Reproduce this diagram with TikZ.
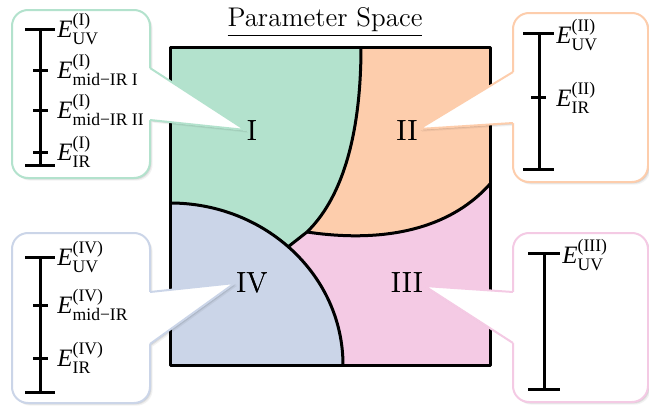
\documentclass[tikz,border=0pt]{standalone}
\usepackage{fontspec}
\newfontfamily\tms{Liberation Serif}
\usetikzlibrary{calc}
\definecolor{pgreen}{HTML}{B3E2CD}
\definecolor{porange}{HTML}{FDCDAC}
\definecolor{pblue}{HTML}{CBD5E8}
\definecolor{ppink}{HTML}{F4CAE4}
\tikzset{
  boundary/.style={line width=1.5pt, line join=round},
  scaleline/.style={line width=1.5pt},
  lab/.style={anchor=west, inner sep=0pt, font=\fontsize{12.5}{14}\selectfont},
  numeral/.style={inner sep=0pt, font=\fontsize{14.5}{17}\selectfont},
}
\newcommand\sml[1]{\mbox{\fontsize{8.8}{10}\selectfont\tms #1}}
\newcommand\En[2]{$\mbox{\tms\itshape E}^{\sml{(#1)}}_{\sml{#2}}$}
% #1 colour, #2 box corner a, #3 box corner b, #4 base a, #5 base b, #6 inner a, #7 inner b, #8 tip
\newcommand\mycallout[8]{%
  \foreach \s/\o in {2.6/0.05, 1.6/0.08, 0.8/0.10}{%
    \fill[black, opacity=\o, rounded corners=8pt] ([shift={(\s,-\s)}]#2) rectangle ([shift={(\s,-\s)}]#3);
    \fill[black, opacity=\o] ([shift={(\s,-\s)}]#4) -- ([shift={(\s,-\s)}]#8) -- ([shift={(\s,-\s)}]#5) -- cycle;
  }
  \filldraw[fill=white, draw=#1, line width=1pt, rounded corners=8pt] (#2) rectangle (#3);
  \fill[white] (#6) -- (#4) -- (#8) -- (#5) -- (#7) -- cycle;
  \draw[#1, line width=1pt, line join=round] (#4) -- (#8) -- (#5);
}
\begin{document}
\begin{tikzpicture}[x=0.5pt, y=0.5pt]
\useasboundingbox (0,0) rectangle (649,-407);

% ---------- parameter space ----------
\fill[ppink] (170,-47) rectangle (490,-365);
\fill[pgreen] (170,-47) -- (361,-47) .. controls (361,-140) and (340,-200) .. (307,-232)
   -- (288,-247) -- (170,-365) -- cycle;
\fill[porange] (361,-47) -- (490,-47) -- (490,-184)
   .. controls (440,-240) and (360,-240) .. (307,-232)
   .. controls (340,-200) and (361,-140) .. (361,-47) -- cycle;
\fill[pblue] (170,-365) -- (170,-203) arc[start angle=90, end angle=0, x radius=86.5pt, y radius=81pt] -- cycle;

\draw[boundary] (361,-47) .. controls (361,-140) and (340,-200) .. (307,-232);
\draw[boundary] (307,-232) .. controls (360,-240) and (440,-240) .. (490,-184);
\draw[boundary] (307,-232) -- (288.5,-246.5);
\draw[boundary] (170,-203) arc[start angle=90, end angle=0, x radius=86.5pt, y radius=81pt];
\draw[boundary] (170,-47) rectangle (490,-365);

\node (title) at (325,-22) {\fontsize{13.5}{16}\selectfont\underline{Parameter Space}};

% numerals (placed first to get anchors)
\path node[numeral] (n1) at (252,-131) {I}
      node[numeral] (n2) at (407,-131) {II}
      node[numeral] (n4) at (252,-283) {IV}
      node[numeral] (n3) at (407,-283) {III};

% ---------- callouts ----------
\mycallout{pgreen}{12,-10}{150,-178}{150,-68}{150,-120}{146,-68}{146,-120}{$(n1.west)+(-1,1)$}
\mycallout{porange}{513,-13}{648,-182}{513,-72}{513,-123}{517,-72}{517,-123}{$(n2.east)+(1,2)$}
\mycallout{pblue}{12,-233}{150,-403}{150,-292}{150,-344}{146,-292}{146,-344}{$(n4.west)+(-1,0)$}
\mycallout{ppink}{513,-233}{648,-402}{513,-292}{513,-343}{517,-292}{517,-343}{$(n3.east)+(1,-3)$}

% redraw numerals on top
\node[numeral] at (n1) {I};
\node[numeral] at (n2) {II};
\node[numeral] at (n4) {IV};
\node[numeral] at (n3) {III};

% ---------- scale I ----------
\draw[scaleline] (40,-29) -- (40,-165);
\draw[scaleline] (25,-29) -- (55,-29);
\draw[scaleline] (25,-165) -- (55,-165);
\foreach \y in {-70,-110,-152} \draw[scaleline] (33,\y) -- (48,\y);
\node[lab] (e1a) at (57,-29) {\En{I}{UV}};
\node[lab] (e1b) at (57,-70) {\En{I}{mid−IR I}};
\node[lab] (e1c) at (57,-110) {\En{I}{mid−IR II}};
\node[lab] (e1d) at (57,-152) {\En{I}{IR}};

% ---------- scale II ----------
\draw[scaleline] (539,-33) -- (539,-169);
\draw[scaleline] (523,-33) -- (554,-33);
\draw[scaleline] (523,-169) -- (554,-169);
\draw[scaleline] (531,-97) -- (546,-97);
\node[lab] (e2a) at (556,-35) {\En{II}{UV}};
\node[lab] (e2b) at (556,-98) {\En{II}{IR}};

% ---------- scale IV ----------
\draw[scaleline] (40,-257) -- (40,-392);
\draw[scaleline] (25,-257) -- (55,-257);
\draw[scaleline] (25,-392) -- (55,-392);
\foreach \y in {-305,-358} \draw[scaleline] (33,\y) -- (48,\y);
\node[lab] (e4a) at (57,-257) {\En{IV}{UV}};
\node[lab] (e4b) at (57,-305) {\En{IV}{mid−IR}};
\node[lab] (e4c) at (57,-358) {\En{IV}{IR}};

% ---------- scale III ----------
\draw[scaleline] (544,-253) -- (544,-389);
\draw[scaleline] (528,-253) -- (560,-253);
\draw[scaleline] (528,-389) -- (560,-389);
\node[lab] (e3a) at (562,-255) {\En{III}{UV}};
\end{tikzpicture}
\end{document}
